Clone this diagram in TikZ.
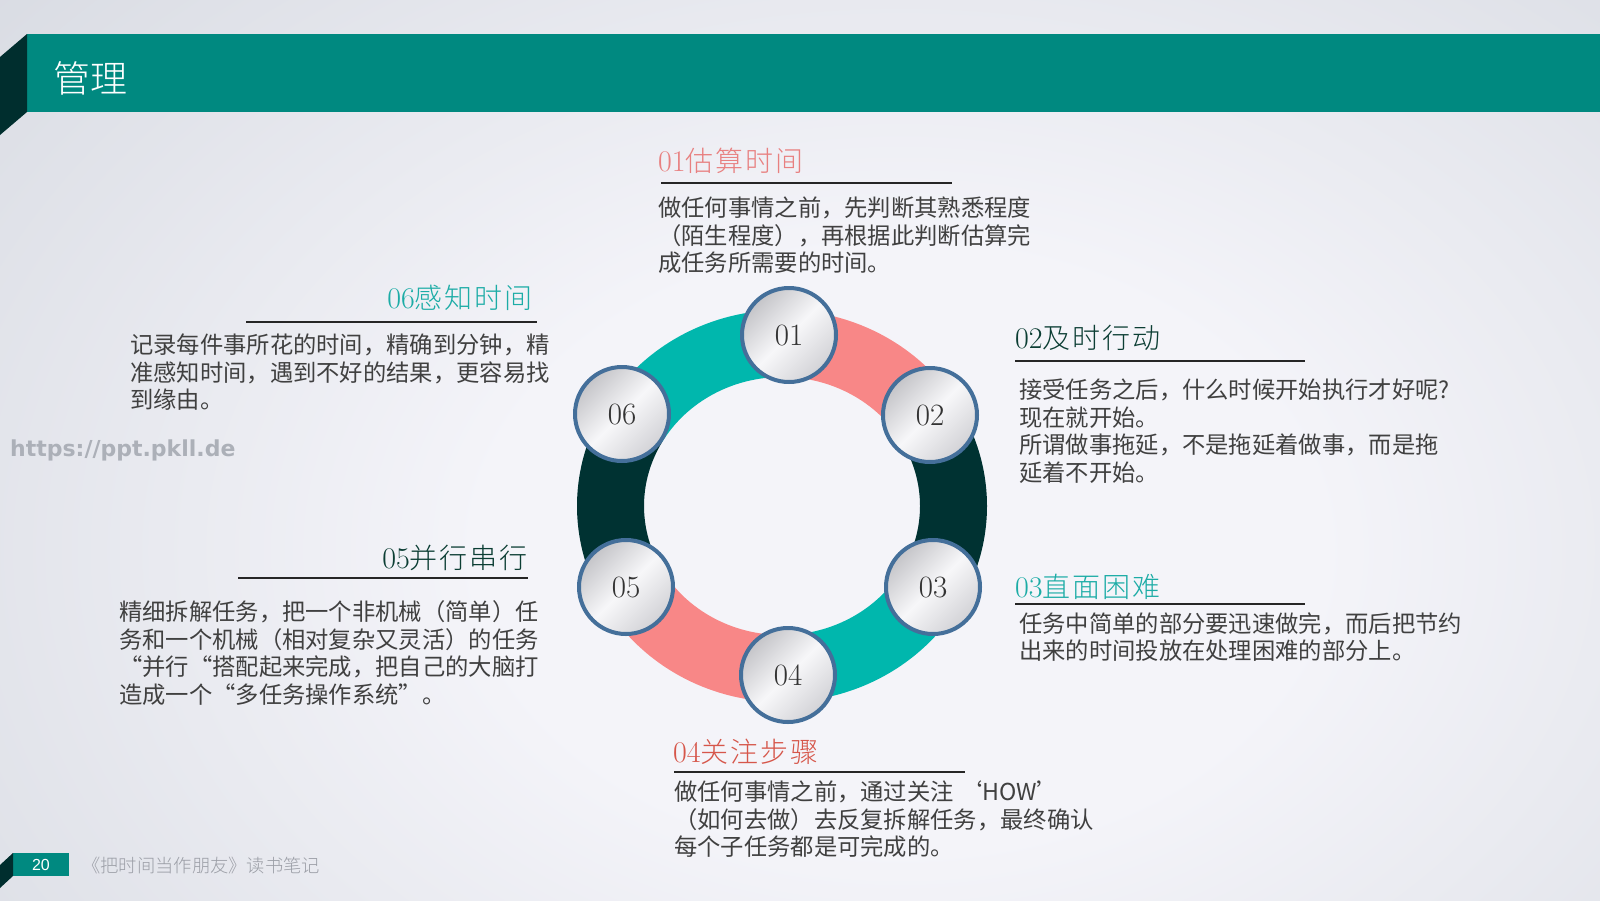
\documentclass[tikz,border=0pt]{standalone}
\usepackage{fontspec}
\newfontfamily\cjk{Noto Sans CJK SC}
\newfontfamily\cjkt{Noto Sans CJK SC Light}[LetterSpace=7]
\newfontfamily\cjklight{Noto Sans CJK SC Light}
\newfontfamily\wmfont{DejaVu Sans}
\newfontfamily\numfont{Liberation Sans}
\usetikzlibrary{calc}
\definecolor{hdrteal}{RGB}{0,137,128}
\definecolor{hdrdark}{RGB}{0,46,46}
\definecolor{ringteal}{RGB}{0,183,173}
\definecolor{ringpink}{RGB}{248,135,135}
\definecolor{ringdark}{RGB}{0,50,50}
\definecolor{cborder}{RGB}{68,111,154}
\definecolor{bodygray}{RGB}{64,64,64}
\definecolor{tpink}{RGB}{232,128,128}
\definecolor{tgreen}{RGB}{12,62,52}
\definecolor{tteal}{RGB}{28,172,166}
\definecolor{tred}{RGB}{214,86,74}
\definecolor{bgedge}{RGB}{196,201,210}
\definecolor{bgmid}{RGB}{244,244,249}
\definecolor{ballA}{RGB}{196,196,200}
\definecolor{ballB}{RGB}{247,247,249}
\definecolor{ballC}{RGB}{210,210,214}
\definecolor{footgray}{RGB}{155,158,166}
\definecolor{wmgray}{RGB}{172,176,184}
\pgfdeclareradialshading{bgshade}{\pgfpoint{0bp}{0bp}}{color(0bp)=(bgmid); color(10bp)=(bgmid); color(43bp)=(bgedge); color(70bp)=(bgedge)}
\newcommand\oq[1]{\makebox[1em][r]{#1}}
\newcommand\cq[1]{\makebox[1em][l]{#1}}
\newcommand\ttltext[2]{{\fontsize{30}{30}\selectfont #1}{\cjkt\fontsize{28}{30}\selectfont #2}}
\tikzset{
  numball/.style={circle, draw=cborder, line width=4pt, minimum size=94pt, inner sep=0pt,
    top color=ballA, bottom color=ballC, middle color=ballB, shading angle=45,
    text=black!80, font=\fontsize{31}{31}\selectfont},
  bodytext/.style={anchor=west, align=left, inner sep=0pt, text=bodygray,
    font=\cjk\fontsize{23.3}{27.5}\selectfont},
  ttl/.style={inner sep=0pt},
  uline/.style={draw=black!85, line width=1.3pt}
}
\begin{document}
\begin{tikzpicture}[x=1pt,y=-1pt]
\useasboundingbox (0,0) rectangle (1600,900);
% background
\begin{scope}
\clip (0,0) rectangle (1600,900);
\shade[shading=bgshade] (-150,-200) rectangle (1950,1300);
\end{scope}
% header
\fill[hdrteal] (27,34) rectangle (1600,112);
\fill[hdrdark] (0,57) -- (27,34) -- (27,112) -- (0,135) -- cycle;
\node[anchor=west, inner sep=0pt, text=white, font=\cjklight\fontsize{37}{40}\selectfont] (title) at (53,78) {管理};
% footer
\fill[hdrteal] (13,853) rectangle (69,876);
\fill[hdrdark] (0,865) -- (13,853) -- (13,876) -- (0,888) -- cycle;
\node[text=white, inner sep=0pt, font=\numfont\fontsize{16}{16}\selectfont] (pnum) at (41,865) {20};
\node[anchor=west, inner sep=0pt, text=footgray, font=\cjklight\fontsize{18.3}{18}\selectfont] (foot) at (82,866) {《把时间当作朋友》读书笔记};
% watermark
\node[anchor=base west, inner sep=0pt, text=wmgray, font=\wmfont\bfseries\fontsize{22}{22}\selectfont] (wm) at (10,456) {https://ppt.pkll.de};
% ring
\coordinate (rc) at (782,506);
\foreach \col/\a/\b in {ringpink/-90/-30, ringdark/-30/30, ringteal/30/90, ringpink/90/150, ringdark/150/210, ringteal/210/270}{
  \fill[\col] ($(rc)+(\a:205 and 196)$) arc[start angle=\a, end angle=\b, x radius=205, y radius=196]
    -- ($(rc)+(\b:138 and 129)$) arc[start angle=\b, end angle=\a, x radius=138, y radius=129] -- cycle;
}
\node[numball] (n1) at (789,335) {01};
\node[numball] (n2) at (930,415) {02};
\node[numball] (n3) at (933,587) {03};
\node[numball] (n4) at (788,675) {04};
\node[numball] (n5) at (626,587) {05};
\node[numball] (n6) at (622,414) {06};
% block 01
\node[ttl, anchor=west, text=tpink] (t1) at (658,161) {\ttltext{01}{估算时间}};
\coordinate (u1a) at (661,183); \coordinate (u1b) at (952,183);
\draw[uline] (u1a) -- (u1b);
\node[bodytext] (b1) at (658,235.5) {做任何事情之前，先判断其熟悉程度\\（陌生程度），再根据此判断估算完\\成任务所需要的时间。};
% block 02
\node[ttl, anchor=west, text=tgreen] (t2) at (1015,338) {\ttltext{02}{及时行动}};
\coordinate (u2a) at (1015,361); \coordinate (u2b) at (1305,361);
\draw[uline] (u2a) -- (u2b);
\node[bodytext] (b2) at (1019,431) {接受任务之后，什么时候开始执行才好呢?\\现在就开始。\\所谓做事拖延，不是拖延着做事，而是拖\\延着不开始。};
% block 03
\node[ttl, anchor=west, text=tteal] (t3) at (1015,587) {\ttltext{03}{直面困难}};
\coordinate (u3a) at (1015,604); \coordinate (u3b) at (1305,604);
\draw[uline] (u3a) -- (u3b);
\node[bodytext] (b3) at (1019,637) {任务中简单的部分要迅速做完，而后把节约\\出来的时间投放在处理困难的部分上。};
% block 04
\node[ttl, anchor=west, text=tred] (t4) at (673,752) {\ttltext{04}{关注步骤}};
\coordinate (u4a) at (674,772); \coordinate (u4b) at (965,772);
\draw[uline] (u4a) -- (u4b);
\node[bodytext] (b4) at (674,819.5) {做任何事情之前，通过关注 ‘HOW’\\（如何去做）去反复拆解任务，最终确认\\每个子任务都是可完成的。};
% block 05
\node[ttl, anchor=east, text=tgreen] (t5) at (528,558) {\ttltext{05}{并行串行}};
\coordinate (u5a) at (238,578); \coordinate (u5b) at (528,578);
\draw[uline] (u5a) -- (u5b);
\node[bodytext] (b5) at (119,653) {精细拆解任务，把一个非机械（简单）任\\务和一个机械（相对复杂又灵活）的任务\\\oq{“}并行“搭配起来完成，把自己的大脑打\\造成一个\oq{“}多任务操作系统\cq{”}。};
% block 06
\node[ttl, anchor=east, text=tteal] (t6) at (533,298) {\ttltext{06}{感知时间}};
\coordinate (u6a) at (246,322); \coordinate (u6b) at (537,322);
\draw[uline] (u6a) -- (u6b);
\node[bodytext] (b6) at (130,372.5) {记录每件事所花的时间，精确到分钟，精\\准感知时间，遇到不好的结果，更容易找\\到缘由。};
\end{tikzpicture}
\end{document}
